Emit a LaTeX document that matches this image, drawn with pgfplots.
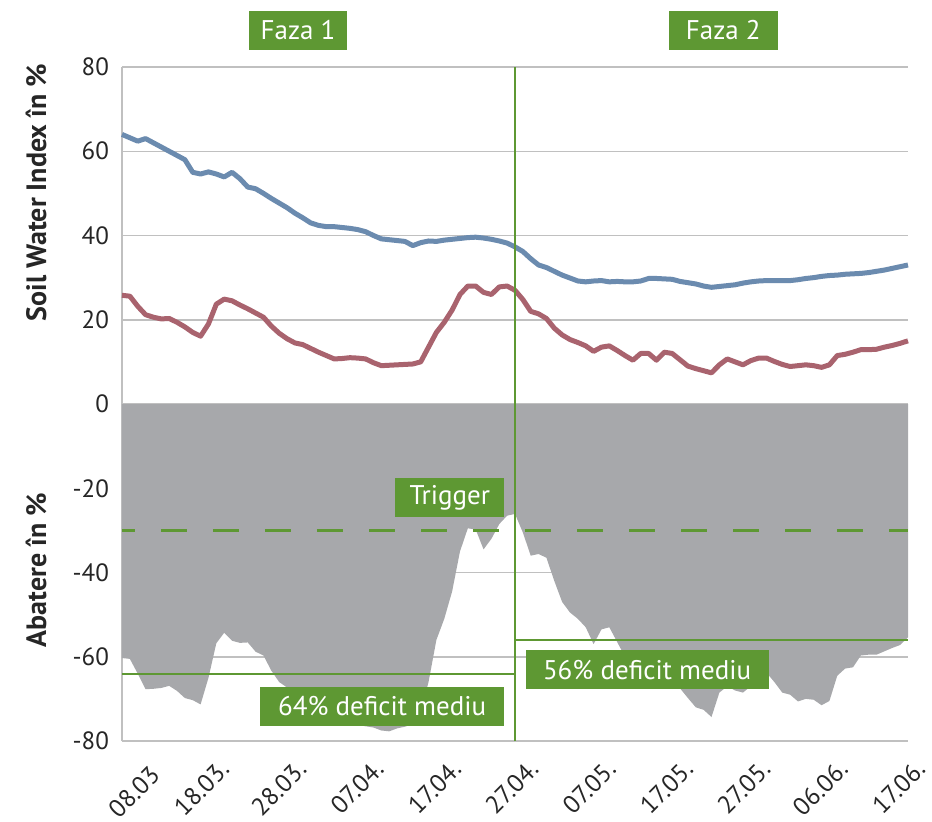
\documentclass[border=0pt]{standalone}
\usepackage{fontspec}
\setmainfont{PT Sans}
\usepackage{pgfplots}
\pgfplotsset{compat=1.18}
\usepackage{pgfplotstable}

\definecolor{swiblue}{HTML}{6B8BAF}
\definecolor{swired}{HTML}{A9636E}
\definecolor{devgray}{HTML}{A7A8AB}
\definecolor{fgreen}{HTML}{5E9833}
\definecolor{gridgray}{HTML}{C0C0C0}

\pgfplotstableread{
day blue red dev
0 64.0 25.8 -60.3
1 63.2 25.6 -60.5
2 62.4 23.2 -64.0
3 63.0 21.2 -67.7
4 62.0 20.6 -67.6
5 61.0 20.2 -67.4
6 60.0 20.3 -66.9
7 59.0 19.4 -68.1
8 58.0 18.3 -69.8
9 55.0 17.0 -70.3
10 54.6 16.1 -71.3
11 55.1 19.0 -65.0
12 54.6 23.7 -56.8
13 53.9 24.9 -54.3
14 55.0 24.5 -56.2
15 53.5 23.5 -56.7
16 51.5 22.6 -56.6
17 51.1 21.6 -58.8
18 50.0 20.6 -59.7
19 48.8 18.5 -63.3
20 47.7 16.8 -66.0
21 46.6 15.5 -67.3
22 45.3 14.5 -68.5
23 44.2 14.1 -70.0
24 43.0 13.2 -71.5
25 42.4 12.3 -72.5
26 42.1 11.5 -73.5
27 42.1 10.7 -74.5
28 41.9 10.8 -75.3
29 41.7 11.0 -75.8
30 41.4 10.9 -76.2
31 40.9 10.7 -76.5
32 40.0 9.8 -76.8
33 39.2 9.1 -77.5
34 39.0 9.2 -77.7
35 38.8 9.3 -77.0
36 38.6 9.4 -76.6
37 37.6 9.5 -76.0
38 38.3 10.0 -73.0
39 38.7 13.5 -66.0
40 38.6 17.0 -56.0
41 38.9 19.4 -51.0
42 39.1 22.3 -44.5
43 39.3 26.0 -35.0
44 39.5 28.0 -29.5
45 39.6 28.0 -29.8
46 39.4 26.5 -34.5
47 39.1 26.0 -32.0
48 38.7 27.8 -28.5
49 38.2 28.0 -26.5
50 37.3 27.0 -26.1
51 36.2 24.8 -30.5
52 34.5 22.0 -36.0
53 33.0 21.4 -35.6
54 32.4 20.3 -36.5
55 31.5 18.0 -42.0
56 30.6 16.4 -47.0
57 29.9 15.3 -49.5
58 29.2 14.6 -51.0
59 29.0 13.8 -53.0
60 29.2 12.5 -57.0
61 29.3 13.5 -53.5
62 29.0 13.8 -53.0
63 29.1 12.7 -56.5
64 29.0 11.5 -60.0
65 29.0 10.4 -59.0
66 29.2 12.0 -61.0
67 29.8 12.0 -63.0
68 29.8 10.4 -64.0
69 29.7 12.3 -65.0
70 29.6 12.0 -66.0
71 29.1 10.5 -67.5
72 28.8 9.0 -69.8
73 28.5 8.4 -72.0
74 28.0 7.9 -72.6
75 27.7 7.4 -74.3
76 27.9 9.3 -68.5
77 28.1 10.7 -67.0
78 28.3 10.0 -68.0
79 28.7 9.3 -68.5
80 29.0 10.3 -67.0
81 29.2 10.9 -65.0
82 29.3 10.9 -63.8
83 29.3 10.1 -66.0
84 29.3 9.4 -68.5
85 29.3 8.9 -69.0
86 29.5 9.1 -70.6
87 29.8 9.3 -70.0
88 30.0 9.1 -70.2
89 30.3 8.7 -71.5
90 30.5 9.3 -70.5
91 30.6 11.5 -64.5
92 30.8 11.8 -62.8
93 30.9 12.3 -62.5
94 31.0 12.9 -59.7
95 31.2 12.9 -59.5
96 31.5 13.0 -59.5
97 31.8 13.5 -58.7
98 32.2 13.9 -57.9
99 32.6 14.4 -57.2
100 33.0 15.0 -55.4
}\swidata

\begin{document}
\begin{tikzpicture}
\begin{axis}[
  scale only axis,
  width=393pt, height=337pt,
  xmin=0, xmax=100, ymin=-80, ymax=80,
  axis lines*=left,
  axis line style={gridgray, line width=0.75pt, -},
  ytick={-80,-60,-40,-20,0,20,40,60,80},
  yticklabels={-80,-60,-40,-20,0,20,40,60,80},
  xtick={0,10,20,30,40,50,60,70,80,90,100},
  xticklabels={08.03,18.03.,28.03.,07.04.,17.04.,27.04.,07.05.,17.05.,27.05.,06.06.,17.06.},
  major tick length=0pt,
  ymajorgrids,
  grid style={gridgray, line width=0.75pt},
  tick label style={font=\fontsize{12.5}{14}\selectfont, text=black!85},
  yticklabel style={xshift=-3pt},
  xticklabel style={xshift={15pt-0.625pt*\ticknum+4pt*(\ticknum==0)}, yshift={-9.5pt-3pt*(\ticknum==0)}, rotate=45, anchor=east},
  clip=false,
]
\addplot[draw=none, fill=devgray] table[x=day, y=dev]{\swidata} \closedcycle;
\addplot[swiblue, line width=2.5pt, line join=round] table[x=day, y=blue]{\swidata};
\addplot[swired, line width=2.5pt, line join=round] table[x=day, y=red]{\swidata};
\addplot[fgreen, line width=1.3pt, dash pattern=on 13pt off 13pt, dash phase=6.5pt] coordinates {(0,-30) (100,-30)};
\addplot[fgreen, line width=1pt] coordinates {(0,-64) (50,-64)};
\addplot[fgreen, line width=1pt] coordinates {(50,-56) (100,-56)};
\addplot[fgreen, line width=1.1pt] coordinates {(50,-80) (50,80)};

\tikzset{gbox/.style={fill=fgreen, text=white, font=\fontsize{13.5}{15}\selectfont, minimum height=19.5pt, inner sep=0pt, anchor=center}}
\node[gbox, minimum width=49pt] at (axis cs:22.4,88.7) {Faza 1};
\node[gbox, minimum width=54.5pt] at (axis cs:76.5,88.7) {Faza 2};
\node[gbox, minimum width=54.5pt] at (axis cs:41.7,-22.3) {Trigger};
\node[gbox, minimum width=122pt] at (axis cs:33.1,-71.7) {64\% deficit mediu};
\node[gbox, minimum width=121.5pt] at (axis cs:66.8,-63.1) {56\% deficit mediu};

\node[rotate=90, font=\bfseries\fontsize{14}{16}\selectfont, text=black!85] at ([xshift=-43pt]axis cs:0,50.2) {Soil Water Index în \%};
\node[rotate=90, font=\bfseries\fontsize{14}{16}\selectfont, text=black!85] at ([xshift=-43pt]axis cs:0,-39.4) {Abatere în \%};

\coordinate (SW) at (rel axis cs:0,0);
\coordinate (NE) at (rel axis cs:1,1);
\end{axis}
\pgfresetboundingbox
\path[use as bounding box] ([shift={(-61pt,-40pt)}]SW) rectangle ([shift={(12pt,33.5pt)}]NE);
\end{tikzpicture}
\end{document}
